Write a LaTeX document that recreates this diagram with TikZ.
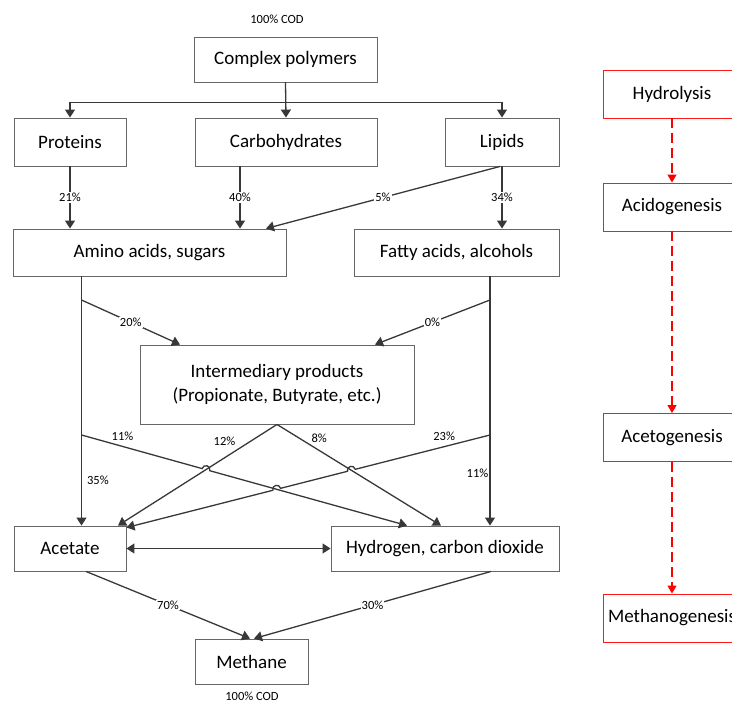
\documentclass[tikz,border=0pt]{standalone}
\usepackage{fontspec}
\setmainfont{Carlito}
\usetikzlibrary{arrows.meta, calc}

\begin{document}
\begin{tikzpicture}[x=1pt, y=-1pt,
        box/.style={draw=black!60, line width=0.9pt, fill=white, inner sep=2pt,
            font=\fontsize{19}{23.5}\selectfont, align=center},
        stage/.style={box, draw=red!90, minimum width=138pt, minimum height=48pt},
        conn/.style={draw=black!78, line width=1.3pt, -{Triangle[length=8pt, width=10pt]}},
        both/.style={conn, {Triangle[length=8pt, width=10pt]}-{Triangle[length=8pt, width=10pt]}},
        pct/.style={font=\fontsize{12.5}{14}\selectfont, inner sep=1pt},
        onl/.style={pct, fill=white},
        flow/.style={draw=red, line width=1.2pt, dash pattern=on 10pt off 5pt,
            -{Triangle[length=8pt, width=9pt]}}]

        \useasboundingbox (0,0) rectangle (732,704);

        % Nodes
        \node[pct] (codin) at (277,19) {100\% COD};
        \node[box, minimum width=183pt, minimum height=45pt] (cp) at (285.5,59.5) {Complex polymers};
        \node[box, minimum width=112pt, minimum height=48pt] (prot) at (70,142) {Proteins};
        \node[box, minimum width=182pt, minimum height=48pt] (carb) at (286,142) {Carbohydrates};
        \node[box, minimum width=114pt, minimum height=48pt] (lip) at (502,142) {Lipids};
        \node[box, minimum width=273pt, minimum height=47pt] (amino) at (149.5,252.5) {Amino acids, sugars};
        \node[box, minimum width=205pt, minimum height=47pt] (fatty) at (456.5,252.5) {Fatty acids, alcohols};
        \node[box, minimum width=274pt, minimum height=79pt] (inter) at (277,384.5)
            {Intermediary products\\(Propionate, Butyrate, etc.)};
        \node[box, minimum width=112pt, minimum height=45pt] (acet) at (70,548.5) {Acetate};
        \node[box, minimum width=228pt, minimum height=45pt] (hyd) at (445,548.5) {Hydrogen, carbon dioxide};
        \node[box, minimum width=113pt, minimum height=45pt] (meth) at (251.5,661.5) {Methane};
        \node[pct] (codout) at (252,696.5) {100\% COD};

        % Stages
        \node[stage] (hydro) at (672,94) {Hydrolysis};
        \node[stage] (acido) at (672,207) {Acidogenesis};
        \node[stage] (aceto) at (672,437.5) {Acetogenesis};
        \node[stage] (metha) at (672,618) {Methanogenesis};

        % Branch points and crossings
        \coordinate (a1) at (81.5,300);
        \coordinate (a2) at (81.5,435);
        \coordinate (f1) at (490,300);
        \coordinate (f2) at (490,435);
        \coordinate (to12) at ([xshift=48pt]acet.north);
        \coordinate (to8) at ([xshift=-4pt]hyd.north);
        \coordinate (to11) at ([xshift=-38pt]hyd.north);
        \coordinate (to23) at ([yshift=-2pt]acet.north east);
        \coordinate (x1) at (intersection of a2--to11 and inter.south--to12);
        \coordinate (x2) at (intersection of a2--to11 and f2--to23);
        \coordinate (x3) at (intersection of f2--to23 and inter.south--to8);

        % Hydrolysis
        \draw[conn] (cp.south) -- (carb.north);
        \draw[conn] (cp.south) -- ++(0,20) -| (prot.north);
        \draw[conn] (cp.south) -- ++(0,20) -| (lip.north);
        \draw[conn] (prot.south) -- node[onl] {21\%} (prot.south |- amino.north);
        \draw[conn] ([xshift=-46pt]carb.south) -- node[onl] {40\%} ([xshift=-46pt]carb.south |- amino.north);
        \draw[conn] (lip.south) -- node[onl] {34\%} (lip.south |- fatty.north);
        \draw[conn] ([xshift=-2pt]lip.south) -- node[onl] {5\%} ([xshift=116.5pt]amino.north);

        % Acidogenesis
        \draw[conn] (amino.south -| a1) -- node[pct, pos=0.82, right=4pt] {35\%} (acet.north -| a1);
        \draw[conn] (fatty.south -| f1) -- node[pct, pos=0.79, left=0pt] {11\%} (hyd.north -| f1);
        \draw[conn] (a1) -- node[onl] {20\%} ([xshift=-97pt]inter.north);
        \draw[conn] (f1) -- node[onl] {0\%} ([xshift=98pt]inter.north);

        % Acetogenesis
        \draw[conn] (inter.south) -- node[pct, pos=0.17, left=13pt] {12\%} (to12);
        \draw[conn] (inter.south) -- node[pct, pos=0.14, right=10pt] {8\%} (to8);
        \draw[conn] (a2) -- node[pct, pos=0.34, above=4pt] {11\%} ($(x1)!4pt!(a2)$)
            to[bend left=90, looseness=1.7] ($(x1)!4pt!(to11)$) -- (to11);
        \draw[conn] (f2) -- node[pct, pos=0.34, above=4pt] {23\%} ($(x3)!4pt!(f2)$)
            to[bend right=90, looseness=1.7] ($(x3)!4pt!(to23)$) -- ($(x2)!4pt!(f2)$)
            to[bend right=90, looseness=1.7] ($(x2)!4pt!(to23)$) -- (to23);

        % Methanogenesis
        \draw[both] (acet.east) -- (hyd.west);
        \draw[conn] ([xshift=16pt]acet.south) -- node[onl] {70\%} ([xshift=-1.5pt]meth.north);
        \draw[conn] ([xshift=46pt]hyd.south) -- node[onl] {30\%} ([xshift=2.5pt]meth.north);

        % Stage flow
        \draw[flow] (hydro) -- (acido);
        \draw[flow] (acido) -- (aceto);
        \draw[flow] (aceto) -- (metha);
    \end{tikzpicture}
\end{document}
